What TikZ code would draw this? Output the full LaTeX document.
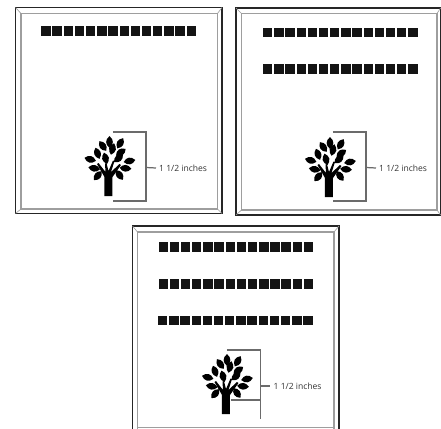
\documentclass[tikz,border=0pt]{standalone}
\usepackage{fontspec}
\setsansfont{Open Sans}
\usetikzlibrary{positioning}
\definecolor{framegray}{gray}{0.62}
\definecolor{brackgray}{gray}{0.42}
\tikzset{
  outerline/.style = {draw=black!85, line width=1pt},
  bevel/.style     = {draw=framegray, line width=0.9pt},
  corner/.style    = {draw=framegray, line width=0.35pt},
  brack/.style     = {draw=brackgray, line width=0.7pt},
  sqbox/.style     = {fill=black!92, draw=none, rectangle, inner sep=0pt,
                      minimum width=5.3pt, minimum height=5.4pt},
  sizelabel/.style = {font=\sffamily\fontsize{4.85}{6}\selectfont, text=black!80,
                      anchor=west, inner sep=1.6pt},
  leaf/.pic = {\fill (-5.9,0) .. controls (-2.3,4.5) and (2.3,4.5) .. (5.9,0)
                      .. controls (2.3,-4.5) and (-2.3,-4.5) .. (-5.9,0);},
  tree/.pic = {
    \fill (-4,0) -- (4,0) -- (4,-19) -- (12.5,-31) -- (11,-32) -- (2.5,-24) -- (6,-35)
          -- (4.5,-35.5) -- (0,-25) -- (-2,-33) -- (-3.5,-32.5) -- (-3,-24) -- (-10,-33)
          -- (-11.5,-32) -- (-4,-19) -- cycle;
    \foreach \lx/\ly/\lang in {1/-54/90, 11.7/-52.7/60, -5.7/-50/125, 4/-47/75,
        12.3/-43.7/35, -11/-42.7/110, -3/-37.7/105, 10/-37.7/40, -18.3/-36.7/165,
        21/-35/10, -14.3/-27.7/-10, 17/-27.7/-5, -10.7/-20.3/50, 11/-21/125}
      \pic[rotate=\lang] at (\lx,\ly) {leaf};
  },
}
\begin{document}
\begin{tikzpicture}[x=0.5669pt,y=-0.5669pt]
\useasboundingbox (0,0) rectangle (441,429);
\fill[white] (0,0) rectangle (441,429);

% first panel
\draw[outerline] (15.5,7.5) rectangle (222,213.5);
\draw[bevel] (21,13.5) rectangle (217.5,209);
\foreach \ax/\ay/\bx/\by in {15.5/7.5/21/13.5, 222/7.5/217.5/13.5, 15.5/213.5/21/209, 222/213.5/217.5/209}
  \draw[corner] (\ax,\ay) -- (\bx,\by);
\foreach \i in {0,...,13}
  \node[sqbox] (a\i) at (46+11.17*\i,31) {};
\pic at (108.5,196) {tree};
\coordinate (ab1) at (113,132);
\coordinate (ab2) at (146,132);
\coordinate (ab3) at (146,201);
\coordinate (ab4) at (113,201);
\coordinate (at) at (146,167.5);
\node[sizelabel] (alab) at (156,168) {1 1/2 inches};
\draw[brack] (ab1) -- (ab2) -- (ab3) -- (ab4);
\draw[brack] (at) -- (alab.west);

% second panel
\draw[outerline] (236,8) rectangle (440.6,215);
\draw[bevel] (241.5,13.5) rectangle (437,210);
\foreach \ax/\ay/\bx/\by in {236/8/241.5/13.5, 440.6/8/437/13.5, 236/215/241.5/210, 440.6/215/437/210}
  \draw[corner] (\ax,\ay) -- (\bx,\by);
\foreach \i in {0,...,13} {
  \node[sqbox] (b\i) at (267.7+11.17*\i,32.3) {};
  \node[sqbox] (c\i) at (267.7+11.17*\i,68.8) {};
}
\pic at (329,197) {tree};
\coordinate (bb1) at (333,132);
\coordinate (bb2) at (366,132);
\coordinate (bb3) at (366,201);
\coordinate (bb4) at (333,201);
\coordinate (bt) at (366,167.5);
\node[sizelabel] (blab) at (376,168) {1 1/2 inches};
\draw[brack] (bb1) -- (bb2) -- (bb3) -- (bb4);
\draw[brack] (bt) -- (blab.west);

% third panel, cut off by the lower edge
\draw[outerline] (132.5,429) -- (132.5,226) -- (339,226) -- (339,429);
\draw[bevel] (137.5,429) -- (137.5,232) -- (334,232) -- (334,429);
\draw[bevel] (137.5,427.5) -- (334,427.5);
\foreach \ax/\ay/\bx/\by in {132.5/226/137.5/232, 339/226/334/232}
  \draw[corner] (\ax,\ay) -- (\bx,\by);
\foreach \i in {0,...,13} {
  \node[sqbox] (d\i) at (163.3+11.17*\i,247) {};
  \node[sqbox] (e\i) at (163.3+11.17*\i,284) {};
  \node[sqbox] (f\i) at (162.8+11.17*\i,320.5) {};
}
\pic at (226,414) {tree};
\coordinate (db1) at (227,350);
\coordinate (db2) at (260.5,350);
\coordinate (db3) at (260.5,419);
\coordinate (db4) at (231,400);
\coordinate (db5) at (260.5,400);
\coordinate (dt) at (260.5,386);
\node[sizelabel] (dlab) at (270.5,386) {1 1/2 inches};
\draw[brack] (db1) -- (db2) -- (db3);
\draw[brack,line width=0.9pt] (db4) -- (db5);
\draw[brack] (dt) -- (dlab.west);
\end{tikzpicture}
\end{document}
